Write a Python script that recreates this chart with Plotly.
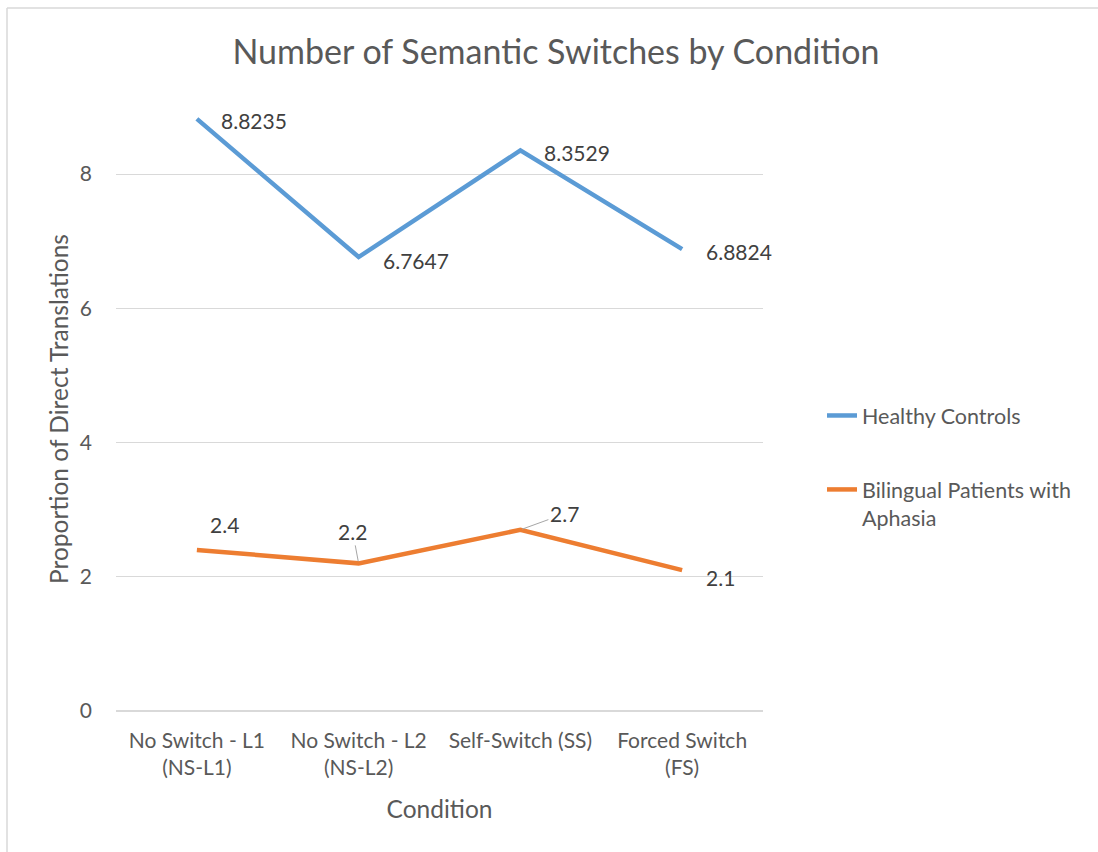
import plotly.graph_objects as go

categories = ["No Switch - L1<br>(NS-L1)", "No Switch - L2<br>(NS-L2)", "Self-Switch (SS)", "Forced Switch<br>(FS)"]
healthy_controls = [8.8235, 6.7647, 8.3529, 6.8824]
bilingual_aphasia = [2.4, 2.2, 2.7, 2.1]
series_names = ["Healthy Controls", "Bilingual Patients with<br>Aphasia"]
y_ticks = [0, 2, 4, 6, 8]

FONT = "Lato, Carlito, 'Liberation Sans', sans-serif"
BLUE = "#5B9BD5"
ORANGE = "#ED7D31"
W, H = 1098, 852
L, R, T, B = 116, 335, 107, 141

fig = go.Figure()
fig.add_trace(go.Scatter(x=categories, y=healthy_controls, mode="lines", name=series_names[0],
                         line=dict(color=BLUE, width=4.5), legendgroup="a"))
fig.add_trace(go.Scatter(x=categories, y=bilingual_aphasia, mode="lines", name=series_names[1],
                         line=dict(color=ORANGE, width=4.5), legendgroup="b"))

# data labels: (xshift, yshift) for plain labels, or (ax, ay) with leader lines
hc_style = [(22, -2), (22, -3), (22, -2), (22, -2)]
bpa_style = [("s", 11, 25), ("a", -6, -32), ("a", 44, -16), ("s", 22, -7)]
LABEL_FONT = dict(family=FONT, size=21, color="#404040")

for c, v, (xs, ys) in zip(categories, healthy_controls, hc_style):
    fig.add_annotation(x=c, y=v, text=f"{v:g}", showarrow=False, xanchor="left",
                       xshift=xs, yshift=ys, font=LABEL_FONT)
for c, v, (kind, a, b) in zip(categories, bilingual_aphasia, bpa_style):
    if kind == "s":
        fig.add_annotation(x=c, y=v, text=f"{v:g}", showarrow=False, xanchor="left",
                           xshift=a, yshift=b, font=LABEL_FONT)
    else:
        fig.add_annotation(x=c, y=v, text=f"{v:g}", showarrow=True, ax=a, ay=b,
                           arrowhead=0, arrowwidth=1, arrowcolor="#A6A6A6", standoff=2,
                           font=LABEL_FONT)

# outer chart border (top and left edges visible in reference)
pw, ph = W - L - R, H - T - B
bx0 = (7 - L) / pw
bx1 = (W + 20 - L) / pw
by_top = (H - B - 8) / ph
by_bot = (H - B - (H + 20)) / ph
for x0, y0, x1, y1 in [(bx0, by_top, bx1, by_top), (bx0, by_bot, bx0, by_top)]:
    fig.add_shape(type="line", xref="paper", yref="paper", x0=x0, y0=y0, x1=x1, y1=y1,
                  line=dict(color="#D9D9D9", width=1.5), layer="below")

fig.update_layout(
    width=W, height=H,
    margin=dict(l=L, r=R, t=T, b=B, autoexpand=False),
    paper_bgcolor="white", plot_bgcolor="white",
    font=dict(family=FONT, color="#595959"),
    title=dict(text="Number of Semantic Switches by Condition", x=556 / W, xanchor="center",
               y=1 - 52 / H, yanchor="middle", xref="container", yref="container",
               font=dict(family=FONT, size=34, color="#595959")),
    showlegend=True,
    legend=dict(xref="container", yref="container", x=822 / W, y=1 - 395 / H,
                xanchor="left", yanchor="top", tracegroupgap=43, valign="top",
                font=dict(family=FONT, size=21.5, color="#595959"), bgcolor="rgba(0,0,0,0)"),
    xaxis=dict(range=[-0.5, 3.5], showgrid=False, showline=False, zeroline=False, ticks="",
               ticklabelstandoff=15,
               tickfont=dict(family=FONT, size=21, color="#595959"),
               title=dict(text="Condition", font=dict(family=FONT, size=24.5, color="#595959"), standoff=22)),
    yaxis=dict(range=[0, 9], tickvals=y_ticks, showgrid=True, gridcolor="#D9D9D9", gridwidth=1.2,
               zeroline=True, zerolinecolor="#D9D9D9", zerolinewidth=1.5, showline=False, ticks="",
               ticklabelstandoff=23,
               tickfont=dict(family=FONT, size=21, color="#595959"),
               title=dict(text="Proportion of Direct Translations",
                          font=dict(family=FONT, size=24.5, color="#595959"), standoff=4)),
)

fig.write_html("out.html", config={"displayModeBar": False},
               post_script="document.body.style.margin='0';document.body.style.overflow='hidden';")
